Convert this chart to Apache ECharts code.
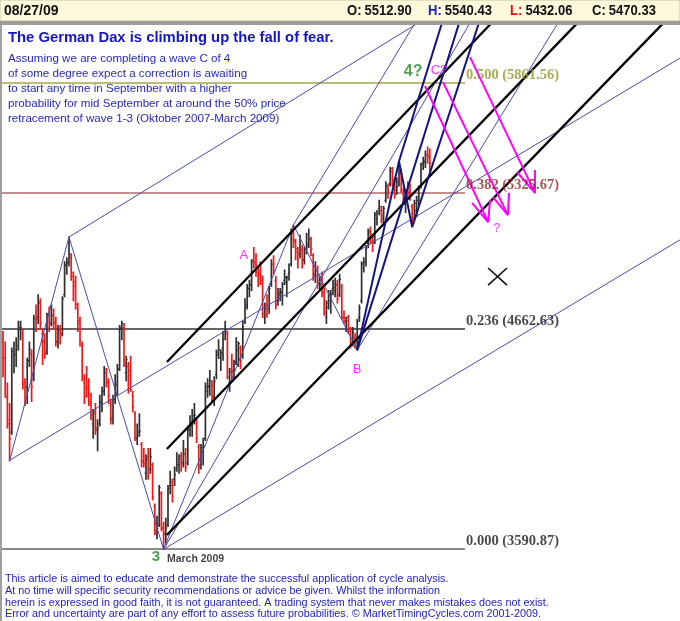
<!DOCTYPE html>
<html><head><meta charset="utf-8">
<script src="https://cdn.jsdelivr.net/npm/echarts@6.0.0/dist/echarts.min.js"></script>
<style>html,body{margin:0;padding:0;background:#fff}#c{width:680px;height:621px}</style>
</head><body><div id="c"></div>
<script>
// ---- trading days (Nov 18 2008 .. Aug 27 2009) ----
const tradingDays = {
  '2008-11': [18,19,20,21,24,25,26,27,28],
  '2008-12': [1,2,3,4,5,8,9,10,11,12,15,16,17,18,19,22,23,29,30],
  '2009-01': [2,5,6,7,8,9,12,13,14,15,16,19,20,21,22,23,26,27,28,29,30],
  '2009-02': [2,3,4,5,6,9,10,11,12,13,16,17,18,19,20,23,24,25,26,27],
  '2009-03': [2,3,4,5,6,9,10,11,12,13,16,17,18,19,20,23,24,25,26,27,30,31],
  '2009-04': [1,2,3,6,7,8,9,14,15,16,17,20,21,22,23,24,27,28,29,30],
  '2009-05': [4,5,6,7,8,11,12,13,14,15,18,19,20,21,22,25,26,27,28,29],
  '2009-06': [1,2,3,4,5,8,9,10,11,12,15,16,17,18,19,22,23,24,25,26,29,30],
  '2009-07': [1,2,3,6,7,8,9,10,13,14,15,16,17,20,21,22,23,24,27,28,29,30,31],
  '2009-08': [3,4,5,6,7,10,11,12,13,14,17,18,19,20,21,24,25,26,27]
};
const dates = [];
Object.keys(tradingDays).forEach(m => tradingDays[m].forEach(d => dates.push(m + '-' + String(d).padStart(2,'0'))));

const opens = [4600,4520,4330,4200,4160,4530,4540,4580,4660,
4640,4400,4380,4510,4540,4420,4710,4720,4790,4640,4610,4550,4730,4690,4730,4690,4600,4660,4640,
4830,4970,4990,5010,4920,4890,4760,4690,4580,4400,4380,4380,4300,4200,4260,4170,4200,4300,4360,4450,4400,
4290,4230,4320,4390,4470,4670,4670,4450,4480,4460,4340,4250,4130,4160,4100,4020,3960,4040,3980,4000,
3800,3680,3710,3860,3690,3660,3710,3900,3900,3930,3980,4000,4030,4010,4050,4010,4170,4190,4240,4220,4090,4000,
4070,4130,4360,4380,4390,4330,4440,4550,4520,4570,4650,4640,4400,4470,4460,4500,4560,4570,4530,4700,
4780,4860,4880,5000,4980,4940,4930,4900,4720,4780,4760,4880,4980,4900,4800,4830,4840,4900,4890,4930,
4980,5130,5090,5040,5030,5050,5000,5050,5080,5100,5020,4930,4960,4880,4900,4840,4720,4790,4800,4860,4850,4880,
4830,4870,4720,4700,4720,4650,4600,4620,4570,4720,4800,4960,4990,5080,5140,5090,5110,5200,5250,5240,5200,5290,5350,
5370,5430,5390,5340,5380,5420,5320,5270,5340,5330,5260,5200,5240,5300,5360,5470,5480,5510,5512.90];
const highs = [4650,4600,4400,4300,4570,4600,4620,4700,4700,
4660,4420,4520,4600,4560,4730,4780,4830,4810,4660,4640,4740,4770,4780,4760,4720,4680,4680,4820,
4990,5010,5111,5030,4940,4920,4790,4720,4600,4440,4480,4420,4350,4270,4300,4220,4340,4380,4480,4470,4420,
4320,4340,4440,4490,4680,4700,4690,4530,4500,4530,4360,4260,4200,4250,4110,4080,4050,4080,4080,4010,
3810,3750,3900,3870,3720,3740,3900,3970,3930,3990,4060,4050,4060,4120,4080,4190,4240,4270,4300,4230,4100,4100,
4130,4400,4420,4460,4410,4430,4560,4610,4560,4650,4700,4650,4470,4540,4510,4620,4600,4580,4700,4810,
4880,4900,5000,5060,5030,4970,4990,4920,4790,4830,4870,5000,5020,4920,4860,4860,4890,4950,4920,4980,
5150,5170,5100,5060,5120,5070,5060,5130,5150,5110,5030,4990,4970,4920,4940,4860,4800,4850,4850,4900,4910,4900,
4930,4880,4750,4720,4730,4670,4670,4640,4710,4780,4990,5010,5070,5150,5160,5120,5230,5240,5290,5260,5260,5380,5370,
5450,5450,5400,5400,5470,5440,5350,5340,5380,5370,5270,5290,5310,5360,5470,5500,5530,5550,5540.43];
const lows = [4430,4330,4180,4020,4150,4450,4480,4560,4610,
4370,4290,4300,4480,4310,4410,4650,4690,4660,4490,4520,4540,4650,4680,4660,4580,4570,4590,4630,
4820,4930,4970,4900,4800,4760,4650,4580,4410,4300,4330,4290,4220,4130,4150,4070,4190,4260,4340,4380,4300,
4200,4200,4300,4340,4460,4610,4480,4410,4350,4360,4260,4120,4100,4140,3990,3990,3930,3930,3960,3830,
3660,3640,3700,3680,3589,3620,3700,3860,3820,3900,3970,3960,3970,3990,3970,4000,4140,4140,4200,4110,3960,3980,
4000,4120,4330,4340,4310,4290,4420,4520,4460,4510,4610,4420,4360,4420,4420,4490,4480,4470,4520,4690,
4760,4820,4850,4960,4920,4870,4880,4720,4690,4720,4740,4870,4930,4760,4780,4800,4780,4880,4820,4900,
4970,5060,5000,4960,5010,4960,4980,5030,5060,5020,4900,4890,4860,4850,4820,4730,4690,4760,4740,4830,4820,4790,
4820,4710,4690,4650,4640,4570,4580,4570,4560,4700,4790,4940,4970,5060,5080,5040,5080,5170,5220,5180,5170,5280,5300,
5360,5360,5300,5320,5360,5330,5270,5230,5300,5290,5160,5190,5210,5270,5350,5440,5450,5470,5432.06];
const closes = [4520,4340,4220,4127,4554,4560,4560,4670,4669,
4394,4379,4507,4565,4381,4715,4708,4792,4693,4601,4542,4730,4677,4727,4696,4601,4653,4629,4810,
4974,4984,5026,4937,4872,4783,4704,4605,4422,4336,4367,4310,4242,4249,4181,4179,4306,4357,4467,4406,4338,
4221,4317,4402,4466,4666,4689,4492,4514,4439,4366,4282,4132,4142,4168,4015,4006,4026,3960,4040,3843,
3667,3691,3890,3695,3667,3693,3886,3917,3898,3953,4001,4043,4003,4056,3990,4176,4210,4226,4244,4131,3990,4085,
4094,4380,4384,4411,4338,4408,4538,4561,4546,4612,4652,4430,4454,4454,4489,4601,4592,4508,4674,4769,
4862,4875,4991,4990,4971,4920,4923,4736,4766,4738,4861,4976,4948,4778,4840,4845,4880,4914,4914,4940,
5140,5096,5054,5004,5077,4998,5032,5068,5102,5052,4922,4947,4900,4880,4839,4740,4768,4833,4833,4864,4876,4809,
4905,4718,4718,4703,4662,4590,4646,4576,4700,4764,4980,4988,5053,5132,5129,5086,5220,5229,5260,5214,5250,5360,5332,
5444,5384,5319,5356,5425,5336,5276,5318,5325,5311,5202,5275,5289,5345,5462,5475,5512,5502,5470.33];

// ---- Fibonacci retracement levels ----
const fibRatios = [0, 0.236, 0.382, 0.5];
const fibPrices = [3590.87, 4662.63, 5325.67, 5861.56];
const fibEndIndex = 210;

// ---- trend lines, endpoints as [bar index, price] ----
const thinBlueLines = [
  [[3, 4020], [30, 5111]],
  [[30, 5111], [189, 6156]],
  [[30, 5111], [73, 3589]],
  [[3.2, 4024], [307.7, 5983]],
  [[73, 3589], [307.7, 5097]],
  [[73, 3589], [132, 5170]],
  [[132, 5170], [187.6, 6160]],
  [[132, 5170], [161, 4560]],
  [[73, 3589], [212.6, 6161]],
  [[161, 4560], [252.6, 6160]]
];
const blackChannelLines = [
  [[74.5, 4502], [222.6, 6160]],
  [[74.5, 4078], [260.7, 6150]],
  [[74.5, 3659], [299.8, 6150]]
];
const navyLines = [
  [[161, 4560], [180, 5480], [186, 5160]],
  [[161, 4560], [207.5, 6160]],
  [[180, 5480], [199.7, 6160]],
  [[186, 5160], [216.5, 6160]]
];
const magentaArrows = [
  [[191.8, 5847], [220.5, 5184]],
  [[200, 5866], [229.5, 5218]],
  [[212.3, 5988], [241.8, 5326]],
  [[213.2, 5277], [220.5, 5184], [221.4, 5292]],
  [[222.7, 5306], [229.5, 5218], [230, 5326]],
  [[233.6, 5428], [241.8, 5326], [241.8, 5438]]
];
const crossMark = [
  [[220.5, 4960], [229.1, 4877]],
  [[220.5, 4877], [229.1, 4960]]
];

// ---- chart annotations, anchored at [bar index, price] ----
const annoText  = ['A', 'B', '3', 'March 2009', '4?', 'C?', '?'];
const annoIndex = [109.5, 160.9, 69.5, 74.5, 186.4, 198.2, 224.5];
const annoPrice = [5019, 4468, 3552, 3542, 5915, 5925, 5150];

const headerDate = '08/27/09';
const headerOHLC = [['O:', '5512.90', '#111'], ['H:', '5540.43', '#1a1ad0'], ['L:', '5432.06', '#e01010'], ['C:', '5470.33', '#111']];
const titleText = 'The German Dax is climbing up the fall of fear.';
const introLines = [
  'Assuming we are completing a wave C of 4',
  'of some degree expect a correction is awaiting',
  'to start any time in September with a higher',
  'probability for mid September at around the 50% price',
  'retracement of wave 1-3 (Oktober 2007-March 2009)'
];
const footerLines = [
  'This article is aimed to educate and demonstrate the successful application of cycle analysis.',
  'At no time will specific security recommendations or advice be given. Whilst the information',
  'herein is expressed in good faith, it is not guaranteed. A trading system that never makes mistakes does not exist.',
  'Error and uncertainty are part of any effort to assess future probabilities. \u00a9 MarketTimingCycles.com 2001-2009.'
];

// ---------------------------------------------------------------
const chart = echarts.init(document.getElementById('c'), null, {renderer: 'canvas'});
const SANS = '"Liberation Sans", Arial, sans-serif';
const SERIF = '"Liberation Serif", "DejaVu Serif", serif';

const ohlcData = dates.map((d, k) => [k, opens[k], highs[k], lows[k], closes[k]]);

function lineSeries(points, color, width, z) {
  return {type: 'line', data: points, symbol: 'none', silent: true, animation: false, clip: true, z: z,
    lineStyle: {color: color, width: width}};
}

const series = [];
series.push({
  type: 'custom', z: 2, animation: false, silent: true, clip: true,
  data: ohlcData, encode: {x: 0, y: [1, 2, 3, 4]},
  renderItem: function (params, api) {
    const i = api.value(0), o = api.value(1), h = api.value(2), l = api.value(3), c = api.value(4);
    const pH = api.coord([i, h]), pL = api.coord([i, l]), pO = api.coord([i, o]), pC = api.coord([i, c]);
    const col = c < o ? '#ee1a1a' : '#303030';
    return {type: 'group', children: [
      {type: 'line', shape: {x1: pH[0], y1: pH[1] - 0.5, x2: pL[0], y2: pL[1] + 0.5}, style: {stroke: col, lineWidth: 1.7}},
      {type: 'line', shape: {x1: pO[0] - 1.4, y1: pO[1], x2: pO[0], y2: pO[1]}, style: {stroke: col, lineWidth: 1.2}},
      {type: 'line', shape: {x1: pC[0], y1: pC[1], x2: pC[0] + 1.4, y2: pC[1]}, style: {stroke: col, lineWidth: 1.2}}
    ]};
  }
});

const fibLineColors = ['#8a8a8a', '#333333', '#b06a6a', '#a8a840'];
const fibTextColors = ['#1a1a1a', '#1a1a1a', '#8e2a2a', '#96962a'];
const fibWidths = [2, 1.4, 1.6, 1.6];
fibPrices.forEach((p, k) => series.push(lineSeries([[-1, p], [fibEndIndex, p]], fibLineColors[k], fibWidths[k], 1)));

thinBlueLines.forEach(s => series.push(lineSeries(s, '#4b4bab', 1, 3)));
blackChannelLines.forEach(s => series.push(lineSeries(s, '#000000', 2.3, 4)));
navyLines.forEach(s => series.push(lineSeries(s, '#14147e', 2, 4)));
magentaArrows.forEach(s => series.push(lineSeries(s, '#ff00ff', 2, 5)));
crossMark.forEach(s => series.push(lineSeries(s, '#111111', 1.6, 5)));

// fib labels
series.push({
  type: 'scatter', symbolSize: 0, silent: true, animation: false, z: 6, clip: false,
  data: fibPrices.map((p, k) => ({value: [fibEndIndex, p],
    label: {color: fibTextColors[k]},
    name: fibRatios[k].toFixed(3) + ' (' + p.toFixed(2) + ')'})),
  label: {show: true, position: 'right', distance: 1, offset: [0, -8], formatter: '{b}',
    fontFamily: SERIF, fontWeight: 'bold', fontSize: 14.5}
});

const annoStyles = {
  'A': {color: '#ff00ff', fontSize: 13, fontFamily: SANS, position: 'inside'},
  'B': {color: '#ff00ff', fontSize: 13, fontFamily: SANS, position: 'inside'},
  '3': {color: '#1f8a1f', fontSize: 15, fontWeight: 'bold', fontFamily: SANS, position: 'inside'},
  'March 2009': {color: '#111', fontSize: 10.5, fontWeight: 'bold', fontFamily: SANS, position: 'right', distance: 0},
  '4?': {color: '#2a8a2a', fontSize: 16, fontWeight: 'bold', fontFamily: SANS, position: 'inside'},
  'C?': {color: '#ff00ff', fontSize: 13, fontFamily: SANS, position: 'inside'},
  '?': {color: '#ff00ff', fontSize: 12, fontFamily: SANS, position: 'inside'}
};
series.push({
  type: 'scatter', symbolSize: 0, silent: true, animation: false, z: 6, clip: false,
  data: annoText.map((t, k) => ({name: t, value: [annoIndex[k], annoPrice[k]], label: Object.assign({show: true, formatter: '{b}'}, annoStyles[t])}))
});

// graphics: header, title, intro text, footer
const graphics = [];
graphics.push({type: 'rect', shape: {x: 0, y: 0, width: 680, height: 21}, style: {fill: '#fbf8dc', stroke: '#c8c4a8', lineWidth: 1}, z: 10});
graphics.push({type: 'rect', shape: {x: 0, y: 21, width: 680, height: 4}, style: {fill: '#9c9c9c'}, z: 10});
graphics.push({type: 'rect', shape: {x: 0, y: 25, width: 2, height: 596}, style: {fill: '#a0a0a0'}, z: 10});
graphics.push({type: 'text', x: 4, y: 11, style: {text: headerDate, font: 'bold 14px ' + SANS, fill: '#111', verticalAlign: 'middle'}, z: 11});
const ohlcX = [347, 428, 510, 592];
headerOHLC.forEach((g, k) => {
  graphics.push({type: 'text', x: ohlcX[k], y: 11, scaleX: 0.93, style: {
    text: '{k|' + g[0] + '} {v|' + g[1] + '}',
    verticalAlign: 'middle',
    rich: {k: {font: 'bold 14px ' + SANS, fill: g[2]}, v: {font: 'bold 14px ' + SANS, fill: '#111'}}
  }, z: 11});
});
graphics.push({type: 'text', x: 8, y: 38, style: {text: titleText, font: 'bold 14.8px ' + SANS, fill: '#1414c8', verticalAlign: 'middle'}, z: 11});
introLines.forEach((t, k) => graphics.push({type: 'text', x: 8, y: 59 + k * 15, style: {text: t, font: '11.6px ' + SANS, fill: '#2828c0', verticalAlign: 'middle'}, z: 11}));
footerLines.forEach((t, k) => graphics.push({type: 'text', x: 5, y: 579 + k * 11.8, style: {text: t, font: '10.8px ' + SANS, fill: '#2222c0', verticalAlign: 'middle'}, z: 11}));

chart.setOption({
  animation: false,
  backgroundColor: '#ffffff',
  grid: {left: 2, right: 0, top: 25, bottom: 53.4, containLabel: false},
  xAxis: {type: 'value', min: -0.4545, max: 307.727, show: false, splitLine: {show: false}},
  yAxis: {type: 'value', min: 3500, max: 6144.3, show: false, splitLine: {show: false}},
  series: series,
  graphic: graphics
});
</script>
</body></html>
